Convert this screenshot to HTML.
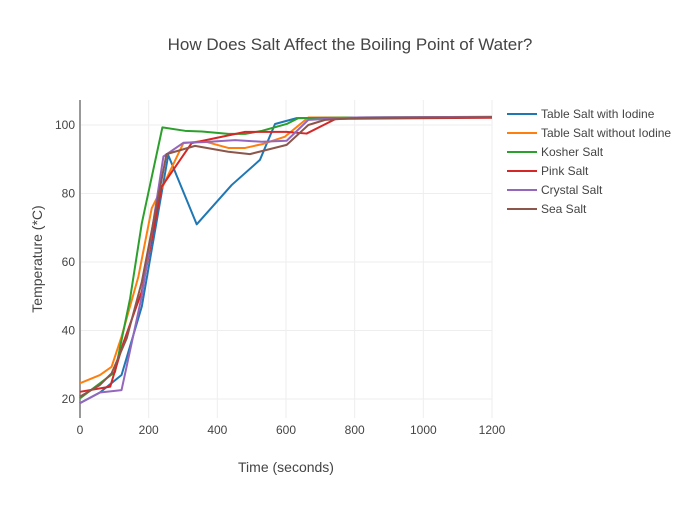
<!DOCTYPE html>
<html><head><meta charset="utf-8"><style>
body{margin:0;background:#fff;font-family:"Liberation Sans",sans-serif}
svg text{font-family:"Liberation Sans",sans-serif;fill:#444}
</style></head><body>
<svg width="700" height="500">
<text x="350" y="50" text-anchor="middle" font-size="17">How Does Salt Affect the Boiling Point of Water?</text>
<g id="grid"></g><g id="series"></g><g id="legend"></g>
<text x="286" y="472" text-anchor="middle" font-size="14">Time (seconds)</text>
<text transform="translate(42,259) rotate(-90)" text-anchor="middle" font-size="14">Temperature (*C)</text>
</svg>
<script>
const names=["Table Salt with Iodine","Table Salt without Iodine","Kosher Salt","Pink Salt","Crystal Salt","Sea Salt"];
const colors=["#1f77b4","#ff7f0e","#2ca02c","#d62728","#9467bd","#8c564b"];
const xTicks=[0,200,400,600,800,1000,1200];
const yTicks=[20,40,60,80,100];
const t0=[0,58,121,180,257,340,442,524,568,631,800,1200];
const v0=[18.8,21.9,27,47,91.2,71,82.5,89.8,100.3,102,102.2,102.3];
const t1=[0,58,92,121,170,209,243,301,359,432,481,534,597,665,800,1200];
const v1=[24.6,27,29.4,38.2,55.7,75.7,82.5,94.7,95.3,93.3,93.3,94.5,96.6,102.2,102.2,102.3];
const t2=[0,102,146,180,240,306,355,432,481,530,602,636,800,1200];
const v2=[20.2,27.9,49.4,71.3,99.3,98.3,98.1,97.4,97.4,98.3,100.3,102,102.2,102.3];
const t3=[0,88,126,180,238,325,481,602,660,745,1200];
const v3=[22.1,23.6,36.3,51.4,82,94.7,98,98,97.5,101.8,102.1];
const t4=[0,58,121,180,243,301,359,452,530,602,665,800,1200];
const v4=[18.8,21.9,22.6,50.1,90.8,94.8,95,95.6,95.1,95.4,101.5,102.2,102.4];
const t5=[0,58,92,136,180,252,335,432,495,602,665,714,800,1200];
const v5=[20.7,24.1,27.5,37.7,54.2,91.5,93.9,92.2,91.5,94.2,100,101.5,102,102.3];
const T=[t0,t1,t2,t3,t4,t5],V=[v0,v1,v2,v3,v4,v5];
const X=t=>80+t*412/1200, Y=v=>125+(100-v)*3.425;
const NS="http://www.w3.org/2000/svg";
const g=document.getElementById('grid'),s=document.getElementById('series'),lg=document.getElementById('legend');
function mk(tag,p,at){const e=document.createElementNS(NS,tag);for(const k in at)e.setAttribute(k,at[k]);p.appendChild(e);return e;}
xTicks.forEach(t=>{
 if(t>0){const l=mk('line',g,{x1:X(t),x2:X(t),y1:100,y2:418,stroke:'#eee'});
 
 }
 const e=mk('text',g,{x:X(t),y:434,'text-anchor':'middle','font-size':12});e.textContent=t;
 
 
});
yTicks.forEach(v=>{
 const l=mk('line',g,{x1:80,x2:492,y1:Y(v),y2:Y(v),stroke:'#eee'});
 
 
 const e=mk('text',g,{x:75,y:Y(v)+4,'text-anchor':'end','font-size':12});e.textContent=v;
 
 
});
const ax=mk('line',g,{x1:80,x2:80,y1:100,y2:418,stroke:'#999','stroke-width':2});


names.forEach((n,i)=>{
 const p=mk('polyline',s,{points:T[i].map((t,j)=>X(t)+','+Y(V[i][j])).join(' '),fill:'none',stroke:colors[i],'stroke-width':2,'stroke-linejoin':'round'});
 
 
 const y=114+i*19;
 const gi=mk('g',lg,{});
 
 
 mk('line',gi,{x1:507,x2:537,y1:y,y2:y,stroke:colors[i],'stroke-width':2});
 const e=mk('text',gi,{x:541,y:y+4,'font-size':12});e.textContent=n;
});
</script>
</body></html>
